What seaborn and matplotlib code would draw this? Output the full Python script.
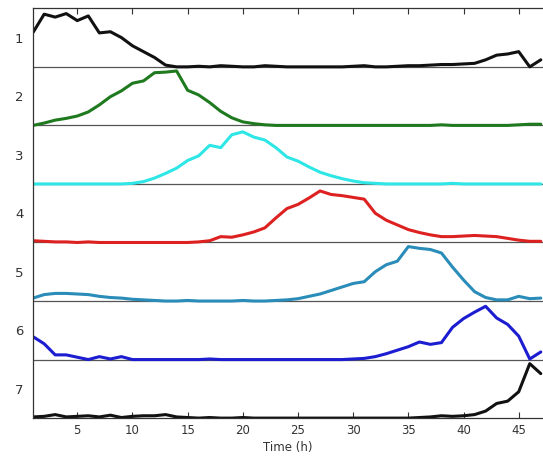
import numpy as np
import pandas as pd
import matplotlib
matplotlib.use("Agg")
import matplotlib.pyplot as plt
import seaborn as sns

# hourly time points
time_h = np.arange(1, 48)

# normalised traces, one per row (fraction of the row height)
trace_1 = [0.59, 0.90, 0.85, 0.91, 0.79, 0.87, 0.58, 0.60, 0.50, 0.36,
           0.26, 0.16, 0.03, 0.00, 0.00, 0.01, 0.00, 0.02, 0.01, 0.00,
           0.00, 0.02, 0.01, 0.00, 0.00, 0.00, 0.00, 0.00, 0.00, 0.01,
           0.02, 0.00, 0.00, 0.01, 0.02, 0.02, 0.03, 0.04, 0.04, 0.05,
           0.06, 0.12, 0.20, 0.22, 0.26, 0.00, 0.12]
trace_2 = [0.00, 0.04, 0.09, 0.12, 0.16, 0.23, 0.35, 0.49, 0.59, 0.72,
           0.76, 0.90, 0.91, 0.93, 0.60, 0.52, 0.39, 0.24, 0.13, 0.06,
           0.03, 0.01, 0.00, 0.00, 0.00, 0.00, 0.00, 0.00, 0.00, 0.00,
           0.00, 0.00, 0.00, 0.00, 0.00, 0.00, 0.00, 0.01, 0.00, 0.00,
           0.00, 0.00, 0.00, 0.00, 0.01, 0.02, 0.02]
trace_3 = [0.00, 0.00, 0.00, 0.00, 0.00, 0.00, 0.00, 0.00, 0.00, 0.01,
           0.04, 0.10, 0.18, 0.27, 0.40, 0.48, 0.66, 0.62, 0.84, 0.89,
           0.80, 0.75, 0.62, 0.46, 0.39, 0.29, 0.20, 0.14, 0.09, 0.05,
           0.02, 0.01, 0.00, 0.00, 0.00, 0.00, 0.00, 0.00, 0.01, 0.00,
           0.00, 0.00, 0.00, 0.00, 0.00, 0.00, 0.00]
trace_4 = [0.03, 0.02, 0.01, 0.01, 0.00, 0.01, 0.00, 0.00, 0.00, 0.00,
           0.00, 0.00, 0.00, 0.00, 0.00, 0.01, 0.03, 0.10, 0.09, 0.13,
           0.18, 0.25, 0.42, 0.58, 0.65, 0.76, 0.88, 0.82, 0.80, 0.77,
           0.74, 0.50, 0.38, 0.30, 0.22, 0.17, 0.13, 0.10, 0.10, 0.11,
           0.12, 0.11, 0.10, 0.07, 0.04, 0.02, 0.02]
trace_5 = [0.05, 0.11, 0.13, 0.13, 0.12, 0.11, 0.08, 0.06, 0.05, 0.03,
           0.02, 0.01, 0.00, 0.00, 0.01, 0.00, 0.00, 0.00, 0.00, 0.01,
           0.00, 0.00, 0.01, 0.02, 0.04, 0.08, 0.12, 0.18, 0.24, 0.30,
           0.33, 0.50, 0.62, 0.68, 0.93, 0.90, 0.88, 0.82, 0.58, 0.36,
           0.16, 0.06, 0.02, 0.02, 0.08, 0.04, 0.05]
trace_6 = [0.39, 0.27, 0.08, 0.08, 0.04, 0.00, 0.05, 0.01, 0.05, 0.00,
           0.00, 0.00, 0.00, 0.00, 0.00, 0.00, 0.01, 0.00, 0.00, 0.00,
           0.00, 0.00, 0.00, 0.00, 0.00, 0.00, 0.00, 0.00, 0.00, 0.01,
           0.02, 0.05, 0.10, 0.16, 0.22, 0.30, 0.26, 0.29, 0.55, 0.70,
           0.81, 0.91, 0.71, 0.60, 0.40, 0.01, 0.13]
trace_7 = [0.02, 0.03, 0.06, 0.02, 0.03, 0.04, 0.02, 0.05, 0.01, 0.03,
           0.04, 0.04, 0.06, 0.02, 0.01, 0.00, 0.01, 0.00, 0.00, 0.01,
           0.00, 0.00, 0.00, 0.00, 0.00, 0.00, 0.00, 0.00, 0.00, 0.00,
           0.00, 0.00, 0.00, 0.00, 0.00, 0.01, 0.02, 0.04, 0.03, 0.04,
           0.06, 0.12, 0.25, 0.29, 0.45, 0.93, 0.76]

row_labels = ["1", "2", "3", "4", "5", "6", "7"]
row_colors = ["#111111", "#1f7a1f", "#2ee6e6", "#dd2020", "#2a8cb8", "#1c1cd0", "#111111"]
x_ticks = [5, 10, 15, 20, 25, 30, 35, 40, 45]

traces = [trace_1, trace_2, trace_3, trace_4, trace_5, trace_6, trace_7]
n_rows = len(traces)

sns.set_style("white")
plt.rcParams["font.family"] = ["DejaVu Sans"]

fig = plt.figure(figsize=(5.43, 4.62), dpi=100)
ax = fig.add_axes([0.061, 0.095, 0.939, 0.887])

# stack rows: row i sits on baseline n_rows - i
for i, (vals, col) in enumerate(zip(traces, row_colors)):
    base = n_rows - 1 - i
    df = pd.DataFrame({"t": time_h, "y": np.array(vals) + base})
    if i < n_rows - 1:
        ax.axhline(base, color="#555555", lw=0.9, zorder=1)
    sns.lineplot(data=df, x="t", y="y", color=col, lw=2.2, ax=ax, zorder=2)

ax.set_xlim(1, 47.2)
ax.set_ylim(0, n_rows)
ax.set_xticks(x_ticks)
ax.set_yticks([n_rows - 1 - i + 0.5 for i in range(n_rows)])
ax.set_yticklabels(row_labels)
ax.tick_params(axis="x", direction="in", top=True, bottom=True, length=4,
               labelsize=8.5, labelcolor="#333333", color="#333333", pad=4)
ax.tick_params(axis="y", length=0, labelsize=9.5, labelcolor="#333333", pad=7)
ax.set_xlabel("Time (h)", fontsize=8.5, color="#333333", labelpad=3)
ax.set_ylabel("")
for s in ["left", "top", "bottom"]:
    ax.spines[s].set_color("#333333")
    ax.spines[s].set_linewidth(0.9)
ax.spines["right"].set_visible(False)

fig.savefig("out.png", dpi=100)
